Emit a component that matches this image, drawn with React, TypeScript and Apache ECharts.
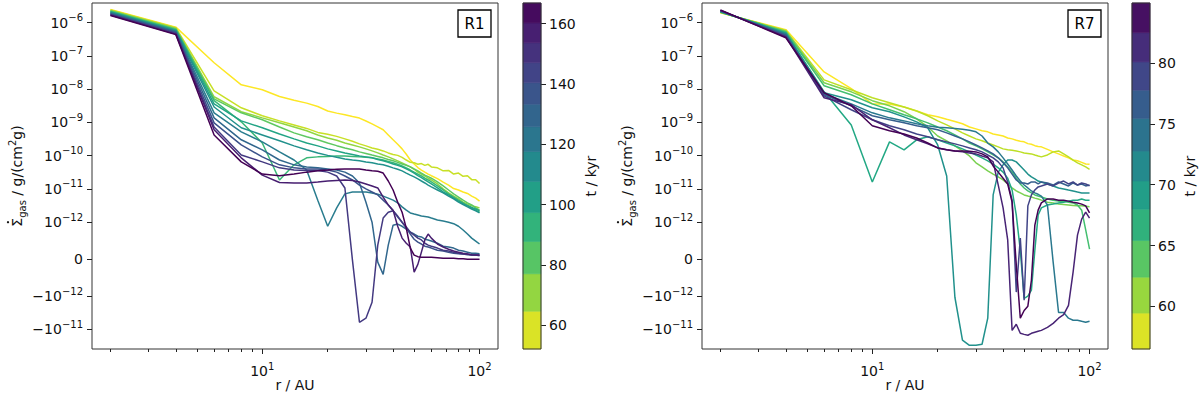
import React, { useEffect, useRef } from "react";
import * as echarts from "echarts";

const FONT = "DejaVu Sans";
const INK = "#111111";

// Radial grid (AU)
const RADII = [2, 4, 6, 8, 10, 12, 14, 16, 18, 20, 22, 24, 26, 28, 30, 32, 34, 36, 38, 40, 42, 44, 46, 48, 50, 52, 54, 56, 58, 60, 64, 68, 72, 76, 80, 84, 88, 92, 96, 100];

// ---- Panel R1: dSigma_gas/dt per snapshot, earliest (yellow) -> latest (purple) ----
const R1_S00 = [2.5e-6, 7.3e-7, 6.2e-8, 1.35e-8, 9.6e-9, 6e-9, 4.6e-9, 3.8e-9, 3e-9, 2.2e-9, 1.9e-9, 1.7e-9, 1.5e-9, 1.35e-9, 1.1e-9, 9e-10, 7.3e-10, 6e-10, 4.2e-10, 3e-10, 2.2e-10, 1.6e-10, 1.1e-10, 7.4e-11, 5.6e-11, 4.4e-11, 3.7e-11, 3.2e-11, 2.8e-11, 2.5e-11, 2.05e-11, 1.6e-11, 1.3e-11, 1.03e-11, 9.3e-12, 8.1e-12, 7.3e-12, 6.1e-12, 5.3e-12, 4.3e-12];
const R1_S01 = [2.38e-6, 7.0e-7, 8.9e-9, 2.75e-9, 1.58e-9, 1.11e-9, 8.4e-10, 6.6e-10, 5e-10, 4.4e-10, 3.8e-10, 3.2e-10, 2.7e-10, 2.26e-10, 1.97e-10, 1.71e-10, 1.55e-10, 1.39e-10, 1.21e-10, 1.09e-10, 1.02e-10, 8.9e-11, 7.4e-11, 6.3e-11, 6.1e-11, 5.5e-11, 5.8e-11, 5.1e-11, 5.5e-11, 4.6e-11, 4.3e-11, 3.5e-11, 3.6e-11, 2.8e-11, 3.0e-11, 2.4e-11, 2.5e-11, 1.9e-11, 1.9e-11, 1.45e-11];
const R1_S02 = [2.3e-6, 6.7e-7, 5.9e-9, 2.1e-9, 1.37e-9, 9.7e-10, 7.3e-10, 5.6e-10, 4.2e-10, 3.4e-10, 2.9e-10, 2.4e-10, 2.1e-10, 1.84e-10, 1.6e-10, 1.39e-10, 1.21e-10, 1.05e-10, 9.2e-11, 8e-11, 7e-11, 6.1e-11, 5.3e-11, 4.6e-11, 3.9e-11, 3.2e-11, 2.8e-11, 2.45e-11, 2.1e-11, 1.86e-11, 1.41e-11, 1e-11, 7.6e-12, 6.1e-12, 5e-12, 4e-12, 3.5e-12, 3.1e-12, 2.9e-12, 2.7e-12];
const R1_S03 = [2.22e-6, 6.4e-7, 5.1e-9, 1.94e-9, 1.2e-9, 7.3e-10, 4.85e-10, 3.7e-10, 3e-10, 2.4e-10, 2e-10, 1.71e-10, 1.5e-10, 1.3e-10, 1.17e-10, 1.05e-10, 9.5e-11, 8.6e-11, 7.7e-11, 7e-11, 6.3e-11, 5.6e-11, 5.1e-11, 4.6e-11, 4e-11, 3.5e-11, 3e-11, 2.6e-11, 2.35e-11, 2.1e-11, 1.62e-11, 1.23e-11, 9.3e-12, 7.1e-12, 5.7e-12, 4.6e-12, 3.8e-12, 3.3e-12, 2.7e-12, 2.3e-12];
const R1_S04 = [2.15e-6, 6.15e-7, 4.5e-9, 1.04e-9, 2.4e-10, 1.86e-11, 5.3e-11, 8.6e-11, 9.2e-11, 9.5e-11, 9.8e-11, 9.8e-11, 9.5e-11, 9.2e-11, 8.9e-11, 8.6e-11, 8e-11, 7.4e-11, 6.7e-11, 6.1e-11, 5.5e-11, 4.9e-11, 4.3e-11, 3.7e-11, 3.2e-11, 2.8e-11, 2.45e-11, 2.1e-11, 1.86e-11, 1.62e-11, 1.23e-11, 9.3e-12, 7.1e-12, 5.7e-12, 4.6e-12, 3.8e-12, 3.1e-12, 2.7e-12, 2.3e-12, 2.0e-12];
const R1_S05 = [2.07e-6, 5.9e-7, 3.6e-9, 1.11e-9, 6.9e-10, 4.5e-10, 3.2e-10, 2.4e-10, 1.97e-10, 1.6e-10, 1.39e-10, 1.21e-10, 1.09e-10, 9.8e-11, 9.2e-11, 8.6e-11, 7.7e-11, 7e-11, 6.3e-11, 5.6e-11, 5.1e-11, 4.6e-11, 4e-11, 3.5e-11, 3e-11, 2.5e-11, 2.2e-11, 1.86e-11, 1.62e-11, 1.41e-11, 1.07e-11, 8.1e-12, 6.6e-12, 5.3e-12, 4.3e-12, 3.6e-12, 3.2e-12, 2.8e-12, 2.5e-12, 2.2e-12];
const R1_S06 = [2e-6, 5.6e-7, 2.9e-9, 6.9e-10, 4.2e-10, 2.8e-10, 1.97e-10, 1.5e-10, 1.21e-10, 1.02e-10, 8.9e-11, 8e-11, 7.4e-11, 7e-11, 6.5e-11, 6.1e-11, 5.6e-11, 5.3e-11, 4.8e-11, 4.3e-11, 3.9e-11, 3.5e-11, 3e-11, 2.6e-11, 2.3e-11, 2e-11, 1.73e-11, 1.51e-11, 1.31e-11, 1.15e-11, 9.3e-12, 7.6e-12, 6.1e-12, 5e-12, 4e-12, 3.4e-12, 2.9e-12, 2.5e-12, 2.2e-12, 1.9e-12];
const R1_S07 = [1.93e-6, 5.4e-7, 1.94e-9, 5.2e-10, 2.6e-10, 1.3e-10, 7.4e-11, 3.7e-11, 4.6e-12, 8.9e-13, 2.7e-12, 7.1e-12, 8.1e-12, 8.1e-12, 8.1e-12, 7.6e-12, 6.9e-12, 6.1e-12, 5.3e-12, 4.6e-12, 3.8e-12, 2.9e-12, 2.3e-12, 1.9e-12, 1.76e-12, 1.64e-12, 1.53e-12, 1.48e-12, 1.43e-12, 1.33e-12, 1.16e-12, 1.08e-12, 1e-12, 9.6e-13, 8.9e-13, 7.9e-13, 6.8e-13, 5.7e-13, 4.9e-13, 4.1e-13];
const R1_S08 = [1.87e-6, 5.2e-7, 1.37e-9, 3e-10, 1.5e-10, 7.4e-11, 5.3e-11, 4.6e-11, 4.3e-11, 4e-11, 3.7e-11, 3.2e-11, 2.45e-11, 1.51e-11, 4e-12, 1e-12, -8.1e-14, -4.1e-13, 3.8e-13, 9.2e-13, 9.5e-13, 8.9e-13, 8.1e-13, 7.3e-13, 6.8e-13, 6.2e-13, 6e-13, 5.4e-13, 5.2e-13, 4.9e-13, 4.3e-13, 3.5e-13, 3.3e-13, 3e-13, 2.4e-13, 2.2e-13, 1.9e-13, 1.6e-13, 1.6e-13, 1.5e-13];
const R1_S09 = [1.8e-6, 5e-7, 9.7e-10, 2.1e-10, 9.2e-11, 5.3e-11, 4.3e-11, 4e-11, 4e-11, 3.7e-11, 3.2e-11, 2.45e-11, 1.86e-11, 1.31e-11, 1e-11, 8.1e-12, 6.6e-12, 4.6e-12, 3.3e-12, 2.2e-12, 1.43e-12, 1e-12, 8.4e-13, 6.8e-13, 5.4e-13, 4.6e-13, 4.1e-13, 3.5e-13, 3.3e-13, 3e-13, 2.4e-13, 2.2e-13, 1.9e-13, 1.6e-13, 1.5e-13, 1.4e-13, 1.2e-13, 1.1e-13, 1.1e-13, 9.5e-14];
const R1_S10 = [1.74e-6, 4.7e-7, 7.3e-10, 1.05e-10, 6.5e-11, 4.3e-11, 3.7e-11, 3.6e-11, 3.6e-11, 3.2e-11, 2.45e-11, 1.07e-11, -2.7e-14, -6.1e-12, -4.6e-12, -1.53e-12, 3.8e-13, 1.33e-12, 2e-12, 2.2e-12, 1.53e-12, 1e-12, 8.7e-13, 7.3e-13, 6.5e-13, 5.7e-13, 5.2e-13, 4.3e-13, 3.8e-13, 3.5e-13, 3e-13, 2.4e-13, 2.2e-13, 1.9e-13, 1.6e-13, 1.4e-13, 1.4e-13, 1.1e-13, 1.1e-13, 1.1e-13];
const R1_S11 = [1.68e-6, 4.5e-7, 6e-10, 8.6e-11, 2.6e-11, 1.56e-11, 1.51e-11, 1.51e-11, 1.62e-11, 1.73e-11, 1.8e-11, 1.86e-11, 1.8e-11, 1.62e-11, 1.41e-11, 1.23e-11, 1.07e-11, 5.7e-12, 3.3e-12, 2.3e-12, 8.9e-13, 5.7e-13, 4.3e-13, 3.3e-13, -3.5e-13, -1.4e-13, 1.9e-13, 5.2e-13, 6.8e-13, 5.7e-13, 4.1e-13, 3.3e-13, 2.7e-13, 2.2e-13, 1.9e-13, 1.6e-13, 1.4e-13, 1.2e-13, 1.1e-13, 1.1e-13];
const R1_S12 = [1.63e-6, 4.35e-7, 4.2e-10, 6.5e-11, 2.8e-11, 2.5e-11, 2.8e-11, 3.2e-11, 3.5e-11, 3.7e-11, 3.9e-11, 4e-11, 4e-11, 4e-11, 3.7e-11, 3.5e-11, 3.4e-11, 3e-11, 1.73e-11, 9.3e-12, 4e-12, 2e-12, 8.4e-13, 3e-13, 1.1e-13, 6.8e-14, 5.4e-14, 5.4e-14, 5.4e-14, 5.4e-14, 4e-14, 2.7e-14, 2.7e-14, 2.7e-14, 1.4e-14, 1.4e-14, 0, 0, 0, 0];
const R1_LINES = [R1_S00, R1_S01, R1_S02, R1_S03, R1_S04, R1_S05, R1_S06, R1_S07, R1_S08, R1_S09, R1_S10, R1_S11, R1_S12];
const R1_T_EDGES = [52.2, 64.7, 77.1, 87.8, 97.4, 107.7, 117.6, 125.8, 133.3, 140.4, 147.0, 153.6, 160.2, 166.8];
const R1_T_TICKS = [60, 80, 100, 120, 140, 160];

// ---- Panel R7 ----
const R7_S00 = [1.96e-6, 6.15e-7, 3.3e-8, 1.03e-8, 3.6e-9, 3.6e-9, 2.9e-9, 2.2e-9, 1.7e-9, 1.47e-9, 1.24e-9, 1.07e-9, 9.1e-10, 7.3e-10, 6.4e-10, 5.6e-10, 5.2e-10, 4.5e-10, 4.2e-10, 3.9e-10, 3.4e-10, 3.2e-10, 2.9e-10, 2.7e-10, 2.6e-10, 2.3e-10, 2.2e-10, 2e-10, 1.9e-10, 1.84e-10, 1.55e-10, 1.3e-10, 1.13e-10, 9.8e-11, 8.6e-11, 7.4e-11, 7e-11, 6.3e-11, 5.6e-11, 5.5e-11];
const R7_S01 = [2.0e-6, 5.8e-7, 1.9e-8, 9.6e-9, 5.5e-9, 3.9e-9, 2.9e-9, 2.2e-9, 1.58e-9, 1.11e-9, 8.4e-10, 6.4e-10, 4.85e-10, 3.9e-10, 3.2e-10, 2.8e-10, 2.4e-10, 2.1e-10, 1.84e-10, 1.6e-10, 1.5e-10, 1.45e-10, 1.39e-10, 1.3e-10, 1.21e-10, 1.17e-10, 1.13e-10, 1.05e-10, 9.8e-11, 9.2e-11, 1.05e-10, 1.3e-10, 1.39e-10, 1.13e-10, 9.2e-11, 7.4e-11, 6.1e-11, 5.3e-11, 4.6e-11, 3.9e-11];
const R7_S02 = [2.04e-6, 5.5e-7, 1.55e-8, 8.3e-9, 4.5e-9, 3.15e-9, 2.1e-9, 1.28e-9, 7.3e-10, 3.9e-10, 2.8e-10, 1.97e-10, 1.39e-10, 9.8e-11, 6.1e-11, 4.6e-11, 3.5e-11, 2.8e-11, 2.3e-11, 1.86e-11, 1.41e-11, 1.07e-11, 8.7e-12, 7.6e-12, 6.6e-12, 6.1e-12, 5.7e-12, 5.3e-12, 5e-12, 4.6e-12, 4e-12, 3.8e-12, 3.5e-12, 3.4e-12, 3.3e-12, 3.2e-12, 3.1e-12, 3.1e-12, 3e-12, 2.9e-12];
const R7_S03 = [2.07e-6, 5.2e-7, 1.26e-8, 6.8e-9, 3.6e-9, 2.4e-9, 1.7e-9, 1.28e-9, 9.7e-10, 7.3e-10, 5.6e-10, 4.2e-10, 3.2e-10, 2.4e-10, 1.97e-10, 1.6e-10, 1.3e-10, 1.05e-10, 8.6e-11, 6.5e-11, 4.6e-11, 3.2e-11, 2.1e-11, 1.41e-11, 1.07e-11, 8.7e-12, 7.6e-12, 6.6e-12, 6.1e-12, 5.7e-12, 5e-12, 4.6e-12, 4.3e-12, 4.3e-12, 4e-12, 3.8e-12, 3.3e-12, 2.3e-12, 7.9e-13, 2.7e-13];
const R7_S04 = [2.1e-6, 4.9e-7, 8.3e-9, 8.4e-10, 1.62e-11, 2.6e-10, 1.5e-10, 3e-10, 3.7e-10, 3e-10, 2.4e-10, 1.97e-10, 1.6e-10, 1.3e-10, 1.05e-10, 8.6e-11, 7e-11, 5.6e-11, 4.3e-11, 3.2e-11, 2.1e-11, 9.3e-12, 1.64e-12, 2.4e-13, -1.16e-12, -1e-12, -8.4e-13, 2.4e-13, 1.64e-12, 2.7e-12, 3.3e-12, 3.5e-12, 3.8e-12, 4e-12, 4.3e-12, 4.6e-12, 4.6e-12, 5e-12, 4.6e-12, 4.6e-12];
const R7_S05 = [2.16e-6, 4.7e-7, 7.8e-9, 4.8e-9, 2.75e-9, 2.1e-9, 1.47e-9, 1.04e-9, 6.9e-10, 2.1e-10, 2.45e-11, -1.08e-12, -2.1e-11, -3e-11, -3e-11, -2.8e-11, -4.6e-12, 6.6e-12, 3.2e-11, 5.3e-11, 7.4e-11, 7.4e-11, 6.5e-11, 4.9e-11, 3.7e-11, 2.8e-11, 2.3e-11, 2e-11, 1.73e-11, 1.62e-11, 1.41e-11, 1.23e-11, 1.07e-11, 1e-11, 9.3e-12, 8.7e-12, 8.1e-12, 7.6e-12, 7.6e-12, 7.6e-12];
const R7_S06 = [2.2e-6, 4.4e-7, 7.3e-9, 3.6e-9, 1.94e-9, 1.37e-9, 1.11e-9, 9.1e-10, 7.9e-10, 7.1e-10, 6.9e-10, 6.6e-10, 6.2e-10, 5.8e-10, 5.2e-10, 3.9e-10, 2.4e-10, 1.84e-10, 1.3e-10, 8.6e-11, 5.6e-11, 3.7e-11, 2.45e-11, 1.73e-11, 1.31e-11, 1.07e-11, 8.7e-12, 7.6e-12, 6.9e-12, 6.1e-12, 3.3e-12, -8.1e-14, -3.1e-12, -3.1e-12, -4.6e-12, -5.3e-12, -5.3e-12, -5.7e-12, -6.1e-12, -5.7e-12];
const R7_S07 = [2.25e-6, 4.2e-7, 6.8e-9, 3.15e-9, 1.58e-9, 1.2e-9, 9.7e-10, 7.9e-10, 6.9e-10, 6e-10, 4.85e-10, 3.9e-10, 3.2e-10, 2.6e-10, 2.1e-10, 1.71e-10, 1.39e-10, 1.13e-10, 8.6e-11, 6.1e-11, 4.3e-11, 2.8e-11, 1.86e-11, 1.51e-11, 1.51e-11, 1.41e-11, 1.62e-11, 1.62e-11, 1.41e-11, 1.62e-11, 1.51e-11, 1.31e-11, 1.62e-11, 1.41e-11, 1.23e-11, 1.51e-11, 1.31e-11, 1.41e-11, 1.23e-11, 1.31e-11];
const R7_S08 = [2.3e-6, 3.9e-7, 6.3e-9, 2.4e-9, 1.2e-9, 7.9e-10, 6e-10, 4.5e-10, 3.7e-10, 3e-10, 2.6e-10, 2.26e-10, 1.97e-10, 1.71e-10, 1.5e-10, 1.3e-10, 1.05e-10, 8.6e-11, 6.5e-11, 4.3e-11, 1.62e-11, 4.6e-12, -8.9e-13, 5.7e-13, -1.33e-12, 3.1e-12, 6.6e-12, 9.3e-12, 1.15e-11, 1.23e-11, 1.41e-11, 1.23e-11, 1.51e-11, 1.73e-11, 1.41e-11, 1.62e-11, 1.31e-11, 1.51e-11, 1.41e-11, 1.23e-11];
const R7_S09 = [2.33e-6, 3.7e-7, 5.5e-9, 3.4e-9, 1.2e-9, 6.9e-10, 4.2e-10, 3e-10, 2.26e-10, 1.71e-10, 1.5e-10, 1.39e-10, 1.3e-10, 1.21e-10, 1.13e-10, 9.8e-11, 8.6e-11, 6.5e-11, 1.31e-11, 2.7e-12, 5.2e-13, -1.07e-11, -7e-12, -1.31e-11, -1.41e-11, -1.5e-11, -1.31e-11, -1.22e-11, -1.14e-11, -1.07e-11, -8.7e-12, -6.6e-12, -4.6e-12, -3.6e-12, -1.9e-12, -3.5e-13, 6.5e-13, 1.24e-12, 2e-12, 1.33e-12];
const R7_S10 = [2.38e-6, 3.5e-7, 7.8e-9, 3.15e-9, 7.9e-10, 5.6e-10, 4.5e-10, 3.4e-10, 2.4e-10, 1.71e-10, 1.5e-10, 1.39e-10, 1.39e-10, 1.35e-10, 1.3e-10, 1.13e-10, 9.2e-11, 4.9e-11, 3.2e-11, 2.1e-11, 1.41e-11, 4e-12, -1.6e-13, -4.6e-12, -2.7e-12, -2e-12, -5.7e-13, 9.2e-13, 2.3e-12, 3.8e-12, 5e-12, 5e-12, 4.6e-12, 4.6e-12, 4.3e-12, 4e-12, 3.8e-12, 3.5e-12, 3.1e-12, 1.9e-12];
const R7_LINES = [R7_S00, R7_S01, R7_S02, R7_S03, R7_S04, R7_S05, R7_S06, R7_S07, R7_S08, R7_S09, R7_S10];
const R7_T_EDGES = [56.5, 59.45, 62.4, 65.41, 67.98, 70.3, 72.76, 75.44, 77.76, 80.08, 82.49, 84.92];
const R7_T_TICKS = [60, 65, 70, 75, 80];

// Axis ticks
const Y_TICKS = [1e-6, 1e-7, 1e-8, 1e-9, 1e-10, 1e-11, 1e-12, 0, -1e-12, -1e-11];
const X_MAJOR = [10, 100];
const X_MINOR = [2, 3, 4, 5, 6, 7, 8, 9, 20, 30, 40, 50, 60, 70, 80, 90];

// symmetric-log transform (linthresh 1e-12, linscale 1, base 10)
const LINTHRESH = 1e-12;
const LINSCALE = 1 / (1 - 1 / 10);
const symlog = (v: number) => {
  const a = Math.abs(v);
  if (a <= LINTHRESH) return (v / LINTHRESH) * LINSCALE;
  return Math.sign(v) * (LINSCALE + Math.log10(a / LINTHRESH));
};
const symlogInv = (t: number) => {
  const a = Math.abs(t);
  if (a <= LINSCALE) return (t / LINSCALE) * LINTHRESH;
  return Math.sign(t) * LINTHRESH * Math.pow(10, a - LINSCALE);
};

const LX0 = Math.log10(2), LX1 = Math.log10(100);
const X_MIN = LX0 - 0.05 * (LX1 - LX0);
const X_MAX = LX1 + 0.05 * (LX1 - LX0);
const Y_MIN = -2.7;
const Y_MAX = 7.7;

const VIRIDIS = ["#440154", "#482475", "#414487", "#355f8d", "#2a788e", "#21918c", "#22a884", "#44bf70", "#7ad151", "#bddf26", "#fde725"];
const hexRgb = (h: string) => [1, 3, 5].map((k) => parseInt(h.slice(k, k + 2), 16));
const viridis = (t: number) => {
  const x = Math.min(1, Math.max(0, t)) * 10;
  const i = Math.min(9, Math.floor(x));
  const f = x - i;
  const a = hexRgb(VIRIDIS[i]), b = hexRgb(VIRIDIS[i + 1]);
  const c = a.map((v, k) => Math.round(v + (b[k] - v) * f));
  return `rgb(${c[0]},${c[1]},${c[2]})`;
};
const lineColor = (i: number, n: number) => viridis(1 - i / (n - 1));
const binColor = (lo: number, hi: number, e0: number, e1: number) => viridis(1 - ((lo + hi) / 2 - e0) / (e1 - e0));

const RICH = {
  b: { fontSize: 14, fontFamily: FONT, color: INK, lineHeight: 20 },
  s: { fontSize: 10, fontFamily: FONT, color: INK, lineHeight: 10, verticalAlign: "top" },
};

const yTickLabel = (t: number) => {
  if (Math.abs(t) < 1e-6) return "{b|0}";
  const v = symlogInv(t);
  const e = Math.round(Math.log10(Math.abs(v)));
  return (v < 0 ? "{b|\u221210}" : "{b|10}") + "{s|" + (e < 0 ? "\u2212" : "") + Math.abs(e) + "}";
};
const xTickLabel = (lx: number) => "{b|10}{s|" + Math.round(lx) + "}";

const PANELS = [
  { lines: R1_LINES, edges: R1_T_EDGES, ticks: R1_T_TICKS, plotLeft: 92, cbLeft: 523, cbTitleX: 591, tag: "R1" },
  { lines: R7_LINES, edges: R7_T_EDGES, ticks: R7_T_TICKS, plotLeft: 702, cbLeft: 1132, cbTitleX: 1190, tag: "R7" },
];
const TOP = 3, H = 346, W = 406, CBW = 18;

function buildOption() {
  const grid: any[] = [], xAxis: any[] = [], yAxis: any[] = [], series: any[] = [], graphic: any[] = [];
  PANELS.forEach((p) => {
    const gPlot = grid.length;
    grid.push({ left: p.plotLeft, top: TOP, width: W, height: H, show: true, borderColor: "#333", borderWidth: 1, containLabel: false });
    const gCb = grid.length;
    grid.push({ left: p.cbLeft, top: TOP, width: CBW, height: H, show: false, containLabel: false });

    const xMajor = xAxis.length;
    xAxis.push({
      type: "value", gridIndex: gPlot, position: "bottom", min: X_MIN, max: X_MAX,
      axisLine: { show: false, onZero: false }, splitLine: { show: false },
      axisTick: { show: true, length: 5, lineStyle: { color: "#222", width: 1 }, customValues: X_MAJOR.map(Math.log10) },
      axisLabel: { show: true, margin: 12, customValues: X_MAJOR.map(Math.log10), formatter: xTickLabel, rich: RICH, color: INK },
    });
    xAxis.push({
      type: "value", gridIndex: gPlot, position: "bottom", min: X_MIN, max: X_MAX,
      axisLine: { show: false, onZero: false }, splitLine: { show: false }, axisLabel: { show: false },
      axisTick: { show: true, length: 3, lineStyle: { color: "#222", width: 1 }, customValues: X_MINOR.map(Math.log10) },
    });
    const xCb = xAxis.length;
    xAxis.push({ type: "value", gridIndex: gCb, min: 0, max: 1, show: false, axisLine: { onZero: false } });

    const yPlot = yAxis.length;
    yAxis.push({
      type: "value", gridIndex: gPlot, position: "left", min: Y_MIN, max: Y_MAX,
      axisLine: { show: false, onZero: false }, splitLine: { show: false },
      axisTick: { show: true, length: 5, lineStyle: { color: "#222", width: 1 }, customValues: Y_TICKS.map(symlog) },
      axisLabel: { show: true, margin: 9, customValues: Y_TICKS.map(symlog), formatter: yTickLabel, rich: RICH, color: INK },
    });
    const yCb = yAxis.length;
    const e0 = p.edges[0], e1 = p.edges[p.edges.length - 1];
    yAxis.push({
      type: "value", gridIndex: gCb, position: "right", min: e0, max: e1,
      axisLine: { show: false, onZero: false }, splitLine: { show: false },
      axisTick: { show: true, length: 5, lineStyle: { color: "#222", width: 1 }, customValues: p.ticks },
      axisLabel: { show: true, margin: 8, customValues: p.ticks, color: INK, fontSize: 14, fontFamily: FONT },
    });

    const n = p.lines.length;
    p.lines.forEach((vals, i) => {
      series.push({
        type: "line", name: `${p.tag}-${i}`, xAxisIndex: xMajor, yAxisIndex: yPlot,
        data: RADII.map((r, k) => [Math.log10(r), symlog(vals[k])]),
        showSymbol: false, symbol: "none", silent: true, clip: true, z: 2 + i * 0.01,
        lineStyle: { width: 1.5, color: lineColor(i, n) }, itemStyle: { color: lineColor(i, n) },
      });
    });

    series.push({
      type: "custom", xAxisIndex: xCb, yAxisIndex: yCb, silent: true, clip: false,
      data: p.edges.slice(0, -1).map((lo, i) => [0, lo, p.edges[i + 1]]),
      encode: { x: 0, y: [1, 2] },
      renderItem: (_params: any, api: any) => {
        const lo = api.value(1), hi = api.value(2);
        const a = api.coord([0, lo]), b = api.coord([1, hi]);
        const c = binColor(lo, hi, e0, e1);
        return { type: "rect", shape: { x: a[0], y: b[1], width: b[0] - a[0], height: a[1] - b[1] }, style: { fill: c, stroke: c, lineWidth: 0.6 } };
      },
    });
    series.push({
      type: "custom", xAxisIndex: xCb, yAxisIndex: yCb, silent: true, clip: false, z: 5,
      data: [[0, e0, e1]],
      encode: { x: 0, y: [1, 2] },
      renderItem: (_params: any, api: any) => {
        const a = api.coord([0, api.value(1)]), b = api.coord([1, api.value(2)]);
        return { type: "rect", shape: { x: a[0], y: b[1], width: b[0] - a[0], height: a[1] - b[1] }, style: { fill: "none", stroke: "#333", lineWidth: 1 } };
      },
    });

    const cx = p.plotLeft + W / 2;
    // y-axis title: Σ̇_gas / g/(cm²g), rotated; the dot over Σ drawn as a small circle
    graphic.push({
      type: "group", x: p.plotLeft - 75, y: TOP + H / 2, rotation: Math.PI / 2,
      children: [
        {
          type: "text", x: 0, y: 0,
          style: {
            text: "{a|\u03A3}{s|gas}{a| / g/(cm}{p|2}{a|g)}",
            align: "center", verticalAlign: "middle",
            rich: {
              a: { fontSize: 14, fontFamily: FONT, fill: INK, lineHeight: 20 },
              s: { fontSize: 10, fontFamily: FONT, fill: INK, lineHeight: 10, verticalAlign: "bottom" },
              p: { fontSize: 10, fontFamily: FONT, fill: INK, lineHeight: 10, verticalAlign: "top" },
            },
          },
        },
        { type: "circle", shape: { cx: -46.2, cy: -9, r: 1.15 }, style: { fill: INK } },
      ],
    });
    graphic.push({ type: "text", x: cx, y: 385, style: { text: "r / AU", fontSize: 14, fontFamily: FONT, fill: INK, align: "center", verticalAlign: "middle" } });
    graphic.push({ type: "text", x: p.cbTitleX, y: TOP + H / 2, rotation: Math.PI / 2, style: { text: "t / kyr", fontSize: 14, fontFamily: FONT, fill: INK, align: "center", verticalAlign: "middle" } });
    const bx = p.plotLeft + W - 40;
    graphic.push({ type: "rect", shape: { x: bx, y: 10, width: 33, height: 27 }, style: { fill: "#fff", stroke: "#000", lineWidth: 1.3 }, z: 100 });
    graphic.push({ type: "text", x: bx + 16.5, y: 23.5, z: 101, style: { text: p.tag, fontSize: 15, fontFamily: FONT, fill: "#000", align: "center", verticalAlign: "middle" } });
  });

  return {
    animation: false,
    backgroundColor: "#ffffff",
    textStyle: { fontFamily: FONT },
    grid, xAxis, yAxis, series, graphic,
  };
}

export default function App() {
  const ref = useRef<HTMLDivElement | null>(null);
  useEffect(() => {
    if (!ref.current) return;
    const chart = echarts.init(ref.current, null, { renderer: "svg" });
    chart.setOption(buildOption() as any);
    return () => chart.dispose();
  }, []);
  return <div ref={ref} style={{ position: "fixed", left: 0, top: 0, width: 1200, height: 394, background: "#fff" }} />;
}
